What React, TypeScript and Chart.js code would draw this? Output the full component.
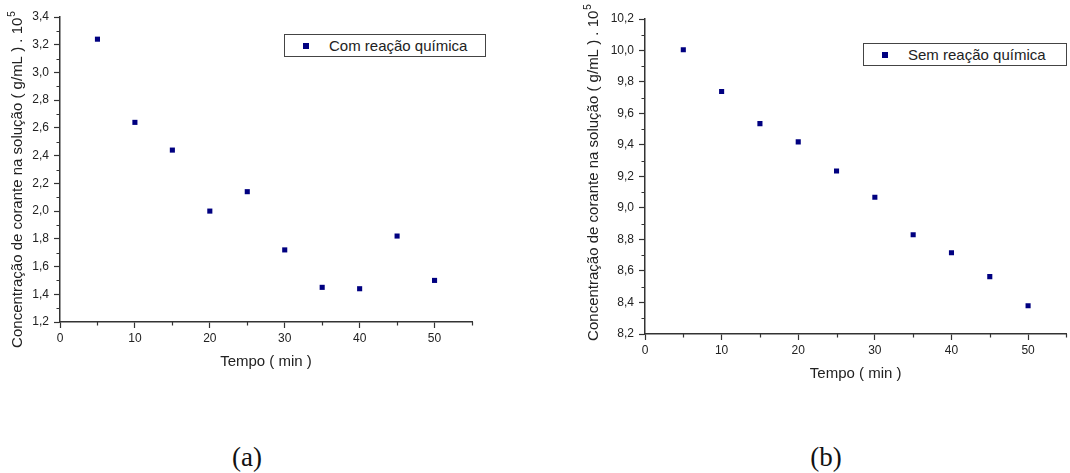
import React, { useEffect, useRef } from 'react';
import { Chart, registerables } from 'chart.js';

Chart.register(...registerables);

// ---- Data ----
const timeMin = [5, 10, 15, 20, 25, 30, 35, 40, 45, 50];
const withReaction = [3.24, 2.64, 2.44, 2.0, 2.14, 1.72, 1.45, 1.44, 1.82, 1.5];
const withoutReaction = [10.005, 9.74, 9.536, 9.42, 9.235, 9.068, 8.83, 8.716, 8.564, 8.379];

const seriesLabelA = 'Com reação química';
const seriesLabelB = 'Sem reação química';
const xTitle = 'Tempo ( min )';
const yTitleMain = 'Concentração de corante na solução ( g/mL ) . 10';
const yTitleSup = '5';
const captions = ['(a)', '(b)'];

const xRange = [0, 55];
const yRangeA = [1.2, 3.4];
const yRangeB = [8.2, 10.2];

const FONT = '"Liberation Sans", Arial, Helvetica, sans-serif';
const INK = '#222';
const AXIS = '#333';
const MARK = '#000080';

const isMajorX = (v: number) => Math.round(v) % 10 === 0;
const isMajorY = (v: number) => Math.round(v * 10) % 2 === 0;

const minorTickPlugin = {
  id: 'minorTicks',
  afterDraw(chart: any) {
    const { ctx, chartArea } = chart;
    const xs = chart.scales.x;
    const ys = chart.scales.y;
    ctx.save();
    ctx.strokeStyle = AXIS;
    ctx.lineWidth = 1.2;
    ctx.beginPath();
    xs.ticks.forEach((t: any) => {
      if (!isMajorX(t.value)) {
        const px = Math.round(xs.getPixelForValue(t.value)) + 0.5;
        ctx.moveTo(px, chartArea.bottom);
        ctx.lineTo(px, chartArea.bottom + 3.5);
      }
    });
    ys.ticks.forEach((t: any) => {
      if (!isMajorY(t.value)) {
        const py = Math.round(ys.getPixelForValue(t.value)) + 0.5;
        ctx.moveTo(chartArea.left, py);
        ctx.lineTo(chartArea.left - 3.5, py);
      }
    });
    ctx.stroke();
    ctx.restore();
  },
};

const yTitlePlugin = {
  id: 'yTitle',
  afterDraw(chart: any, _args: any, opts: any) {
    const { ctx, chartArea } = chart;
    const mainFont = `15px ${FONT}`;
    const supFont = `10px ${FONT}`;
    ctx.save();
    ctx.font = mainFont;
    const w1 = ctx.measureText(opts.text).width;
    ctx.font = supFont;
    const w2 = ctx.measureText(opts.sup).width;
    const total = w1 + 1 + w2;
    const cy = (chartArea.top + chartArea.bottom) / 2 + opts.dy;
    ctx.translate(opts.x, cy);
    ctx.rotate(-Math.PI / 2);
    ctx.fillStyle = INK;
    ctx.textBaseline = 'middle';
    ctx.textAlign = 'left';
    ctx.font = mainFont;
    ctx.fillText(opts.text, -total / 2, 0);
    ctx.font = supFont;
    ctx.fillText(opts.sup, -total / 2 + w1 + 1, -6);
    ctx.restore();
  },
};

type PanelProps = {
  left: number;
  width: number;
  height: number;
  values: number[];
  label: string;
  yRange: number[];
  yAxisWidth: number;
  padTop: number;
  padRight: number;
  plotBottom: number;
  xTitlePad: number;
  yTitleX: number;
  yTitleDy: number;
};

function Panel(p: PanelProps) {
  const ref = useRef<HTMLCanvasElement | null>(null);
  useEffect(() => {
    if (!ref.current) return;
    const chart = new Chart(ref.current, {
      type: 'scatter',
      data: {
        datasets: [
          {
            label: p.label,
            data: timeMin.map((t, i) => ({ x: t, y: p.values[i] })),
            pointStyle: 'rect',
            pointRadius: 3.6,
            pointHoverRadius: 3.6,
            pointBorderWidth: 0,
            backgroundColor: MARK,
            borderColor: MARK,
          },
        ],
      },
      options: {
        animation: false,
        responsive: false,
        devicePixelRatio: 1,
        layout: { padding: { top: p.padTop, right: p.padRight, left: 0, bottom: 0 } },
        plugins: {
          legend: { display: false },
          tooltip: { enabled: false },
          yTitle: { text: yTitleMain, sup: yTitleSup, x: p.yTitleX, dy: p.yTitleDy },
        } as any,
        scales: {
          x: {
            type: 'linear',
            min: xRange[0],
            max: xRange[1],
            afterFit: (s: any) => {
              s.height = p.height - p.plotBottom;
            },
            ticks: {
              stepSize: 5,
              autoSkip: false,
              maxRotation: 0,
              padding: 3,
              color: INK,
              font: { family: FONT, size: 12 },
              callback: (v: any) => (isMajorX(Number(v)) ? String(v) : ''),
            },
            grid: {
              drawOnChartArea: false,
              drawTicks: true,
              tickLength: 6,
              tickWidth: 1.2,
              tickColor: (c: any) => (c.tick && !isMajorX(c.tick.value) ? 'rgba(0,0,0,0)' : AXIS),
            },
            border: { display: true, color: AXIS, width: 1.5 },
            title: {
              display: true,
              text: xTitle,
              color: INK,
              font: { family: FONT, size: 15 },
              padding: { top: 0, bottom: p.xTitlePad },
            },
          },
          y: {
            type: 'linear',
            min: p.yRange[0],
            max: p.yRange[1],
            afterFit: (s: any) => {
              s.width = p.yAxisWidth;
            },
            ticks: {
              stepSize: 0.1,
              autoSkip: false,
              padding: 5,
              color: INK,
              font: { family: FONT, size: 12 },
              callback: (v: any) => (isMajorY(Number(v)) ? Number(v).toFixed(1).replace('.', ',') : ''),
            },
            grid: {
              drawOnChartArea: false,
              drawTicks: true,
              tickLength: 6,
              tickWidth: 1.2,
              tickColor: (c: any) => (c.tick && !isMajorY(c.tick.value) ? 'rgba(0,0,0,0)' : AXIS),
            },
            border: { display: true, color: AXIS, width: 1.5 },
            title: { display: false },
          },
        },
      },
      plugins: [minorTickPlugin, yTitlePlugin],
    } as any);
    return () => chart.destroy();
  }, []);
  return (
    <canvas
      ref={ref}
      width={p.width}
      height={p.height}
      style={{ position: 'absolute', left: p.left, top: 0, width: p.width, height: p.height }}
    />
  );
}

function Legend({ left, top, width, label }: { left: number; top: number; width: number; label: string }) {
  return (
    <div
      style={{
        position: 'absolute',
        left,
        top,
        width,
        height: 23,
        boxSizing: 'border-box',
        border: '1px solid #444',
        background: '#fff',
        fontFamily: FONT,
        fontSize: 15,
        color: INK,
        lineHeight: '21px',
      }}
    >
      <span
        style={{
          position: 'absolute',
          left: 18,
          top: 8,
          width: 6,
          height: 6,
          background: MARK,
        }}
      />
      <span style={{ position: 'absolute', left: 44, top: 0, whiteSpace: 'nowrap' }}>{label}</span>
    </div>
  );
}

function Caption({ cx, text }: { cx: number; text: string }) {
  return (
    <div
      style={{
        position: 'absolute',
        left: cx - 50,
        top: 440,
        width: 100,
        textAlign: 'center',
        fontFamily: '"Liberation Serif", "Times New Roman", serif',
        fontSize: 27,
        lineHeight: '34px',
        color: '#111',
      }}
    >
      {text}
    </div>
  );
}

export default function App() {
  return (
    <div
      style={{
        position: 'fixed',
        left: 0,
        top: 0,
        width: 1070,
        height: 473,
        background: '#fff',
        overflow: 'hidden',
      }}
    >
      <Panel
        left={0}
        width={500}
        height={385}
        values={withReaction}
        label={seriesLabelA}
        yRange={yRangeA}
        yAxisWidth={60}
        padTop={17}
        padRight={28}
        plotBottom={322}
        xTitlePad={14}
        yTitleX={18}
        yTitleDy={10}
      />
      <Panel
        left={565}
        width={505}
        height={395}
        values={withoutReaction}
        label={seriesLabelB}
        yRange={yRangeB}
        yAxisWidth={80}
        padTop={19}
        padRight={0}
        plotBottom={334}
        xTitlePad={12}
        yTitleX={29}
        yTitleDy={-4}
      />
      <Legend left={284} top={34} width={202} label={seriesLabelA} />
      <Legend left={863} top={43} width={204} label={seriesLabelB} />
      <Caption cx={247} text={captions[0]} />
      <Caption cx={826} text={captions[1]} />
    </div>
  );
}
